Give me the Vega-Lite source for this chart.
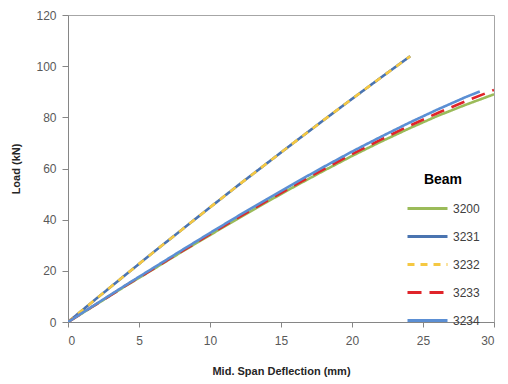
{
  "$schema": "https://vega.github.io/schema/vega-lite/v6.json",
  "width": 426,
  "height": 307,
  "autosize": {"type": "none"},
  "padding": {"left": 68, "top": 15, "right": 14, "bottom": 62},
  "background": "white",
  "config": {
    "view": {"stroke": "#a6a6a6", "strokeWidth": 1},
    "font": "Liberation Sans"
  },
  "data": {
    "values": [
      {"beam": "3200", "d": 0, "load": 0},
      {"beam": "3200", "d": 2, "load": 6.9},
      {"beam": "3200", "d": 4, "load": 13.9},
      {"beam": "3200", "d": 6, "load": 20.6},
      {"beam": "3200", "d": 8, "load": 27.4},
      {"beam": "3200", "d": 10, "load": 34.0},
      {"beam": "3200", "d": 12, "load": 40.5},
      {"beam": "3200", "d": 14, "load": 46.9},
      {"beam": "3200", "d": 16, "load": 53.1},
      {"beam": "3200", "d": 18, "load": 59.1},
      {"beam": "3200", "d": 20, "load": 64.9},
      {"beam": "3200", "d": 22, "load": 70.4},
      {"beam": "3200", "d": 24, "load": 75.6},
      {"beam": "3200", "d": 26, "load": 80.5},
      {"beam": "3200", "d": 28, "load": 84.9},
      {"beam": "3200", "d": 30, "load": 89.0},
      {"beam": "3231", "d": 0, "load": 0},
      {"beam": "3231", "d": 2, "load": 9.15},
      {"beam": "3231", "d": 4, "load": 18.2},
      {"beam": "3231", "d": 6, "load": 27.2},
      {"beam": "3231", "d": 8, "load": 36.0},
      {"beam": "3231", "d": 10, "load": 44.8},
      {"beam": "3231", "d": 12, "load": 53.5},
      {"beam": "3231", "d": 14, "load": 62.0},
      {"beam": "3231", "d": 16, "load": 70.5},
      {"beam": "3231", "d": 18, "load": 78.9},
      {"beam": "3231", "d": 20, "load": 87.2},
      {"beam": "3231", "d": 22, "load": 95.4},
      {"beam": "3231", "d": 24.1, "load": 103.9},
      {"beam": "3232", "d": 0, "load": 0},
      {"beam": "3232", "d": 2, "load": 9.15},
      {"beam": "3232", "d": 4, "load": 18.2},
      {"beam": "3232", "d": 6, "load": 27.2},
      {"beam": "3232", "d": 8, "load": 36.0},
      {"beam": "3232", "d": 10, "load": 44.8},
      {"beam": "3232", "d": 12, "load": 53.5},
      {"beam": "3232", "d": 14, "load": 62.0},
      {"beam": "3232", "d": 16, "load": 70.5},
      {"beam": "3232", "d": 18, "load": 78.9},
      {"beam": "3232", "d": 20, "load": 87.2},
      {"beam": "3232", "d": 22, "load": 95.4},
      {"beam": "3232", "d": 24.1, "load": 103.9},
      {"beam": "3233", "d": 0, "load": 0},
      {"beam": "3233", "d": 2, "load": 7.0},
      {"beam": "3233", "d": 4, "load": 14.0},
      {"beam": "3233", "d": 6, "load": 20.8},
      {"beam": "3233", "d": 8, "load": 27.6},
      {"beam": "3233", "d": 10, "load": 34.3},
      {"beam": "3233", "d": 12, "load": 40.9},
      {"beam": "3233", "d": 14, "load": 47.3},
      {"beam": "3233", "d": 16, "load": 53.6},
      {"beam": "3233", "d": 18, "load": 59.7},
      {"beam": "3233", "d": 20, "load": 65.6},
      {"beam": "3233", "d": 22, "load": 71.2},
      {"beam": "3233", "d": 24, "load": 76.6},
      {"beam": "3233", "d": 26, "load": 81.6},
      {"beam": "3233", "d": 28, "load": 86.3},
      {"beam": "3233", "d": 30, "load": 90.7},
      {"beam": "3234", "d": 0, "load": 0},
      {"beam": "3234", "d": 2, "load": 7.1},
      {"beam": "3234", "d": 4, "load": 14.2},
      {"beam": "3234", "d": 6, "load": 21.1},
      {"beam": "3234", "d": 8, "load": 28.0},
      {"beam": "3234", "d": 10, "load": 34.8},
      {"beam": "3234", "d": 12, "load": 41.5},
      {"beam": "3234", "d": 14, "load": 48.0},
      {"beam": "3234", "d": 16, "load": 54.4},
      {"beam": "3234", "d": 18, "load": 60.6},
      {"beam": "3234", "d": 20, "load": 66.6},
      {"beam": "3234", "d": 22, "load": 72.3},
      {"beam": "3234", "d": 24, "load": 77.8},
      {"beam": "3234", "d": 26, "load": 83.0},
      {"beam": "3234", "d": 28, "load": 87.9},
      {"beam": "3234", "d": 29, "load": 90.1}
    ]
  },
  "mark": {"type": "line", "strokeWidth": 2.6, "clip": true},
  "encoding": {
    "x": {
      "field": "d",
      "type": "quantitative",
      "title": "Mid. Span Deflection (mm)",
      "scale": {"domain": [0, 30], "nice": false},
      "axis": {
        "values": [0, 5, 10, 15, 20, 25, 30],
        "grid": false,
        "domainColor": "#868686",
        "tickColor": "#868686",
        "tickSize": 5,
        "labelFontSize": 12,
        "labelColor": "#595959",
        "labelPadding": 8,
        "titleFontSize": 11,
        "titleFontWeight": "bold",
        "titleColor": "#262626",
        "titlePadding": 19
      }
    },
    "y": {
      "field": "load",
      "type": "quantitative",
      "title": "Load (kN)",
      "scale": {"domain": [0, 120], "nice": false},
      "axis": {
        "values": [0, 20, 40, 60, 80, 100, 120],
        "grid": false,
        "domainColor": "#868686",
        "tickColor": "#868686",
        "tickSize": 6,
        "labelFontSize": 12,
        "labelColor": "#595959",
        "labelPadding": 6,
        "titleFontSize": 11,
        "titleFontWeight": "bold",
        "titleColor": "#262626",
        "titlePadding": 14
      }
    },
    "color": {
      "field": "beam",
      "type": "nominal",
      "title": "Beam",
      "scale": {
        "domain": ["3200", "3231", "3232", "3233", "3234"],
        "range": ["#9bbb59", "#4a74b0", "#f5c842", "#e0242a", "#5b8fd4"]
      },
      "legend": {
        "orient": "none",
        "legendX": 338,
        "legendY": 158,
        "symbolType": "stroke",
        "symbolSize": 1600,
        "symbolStrokeWidth": 3,
        "rowPadding": -16,
        "labelFontSize": 12,
        "labelColor": "#404040",
        "labelOffset": 4,
        "titleFontSize": 14,
        "titleFontWeight": "bold",
        "titleColor": "#000000",
        "titlePadding": 0,
        "titleAnchor": "middle"
      }
    },
    "strokeDash": {
      "field": "beam",
      "type": "nominal",
      "title": "Beam",
      "scale": {
        "domain": ["3200", "3231", "3232", "3233", "3234"],
        "range": [[1, 0], [1, 0], [7, 6], [14, 8], [1, 0]]
      }
    }
  }
}
